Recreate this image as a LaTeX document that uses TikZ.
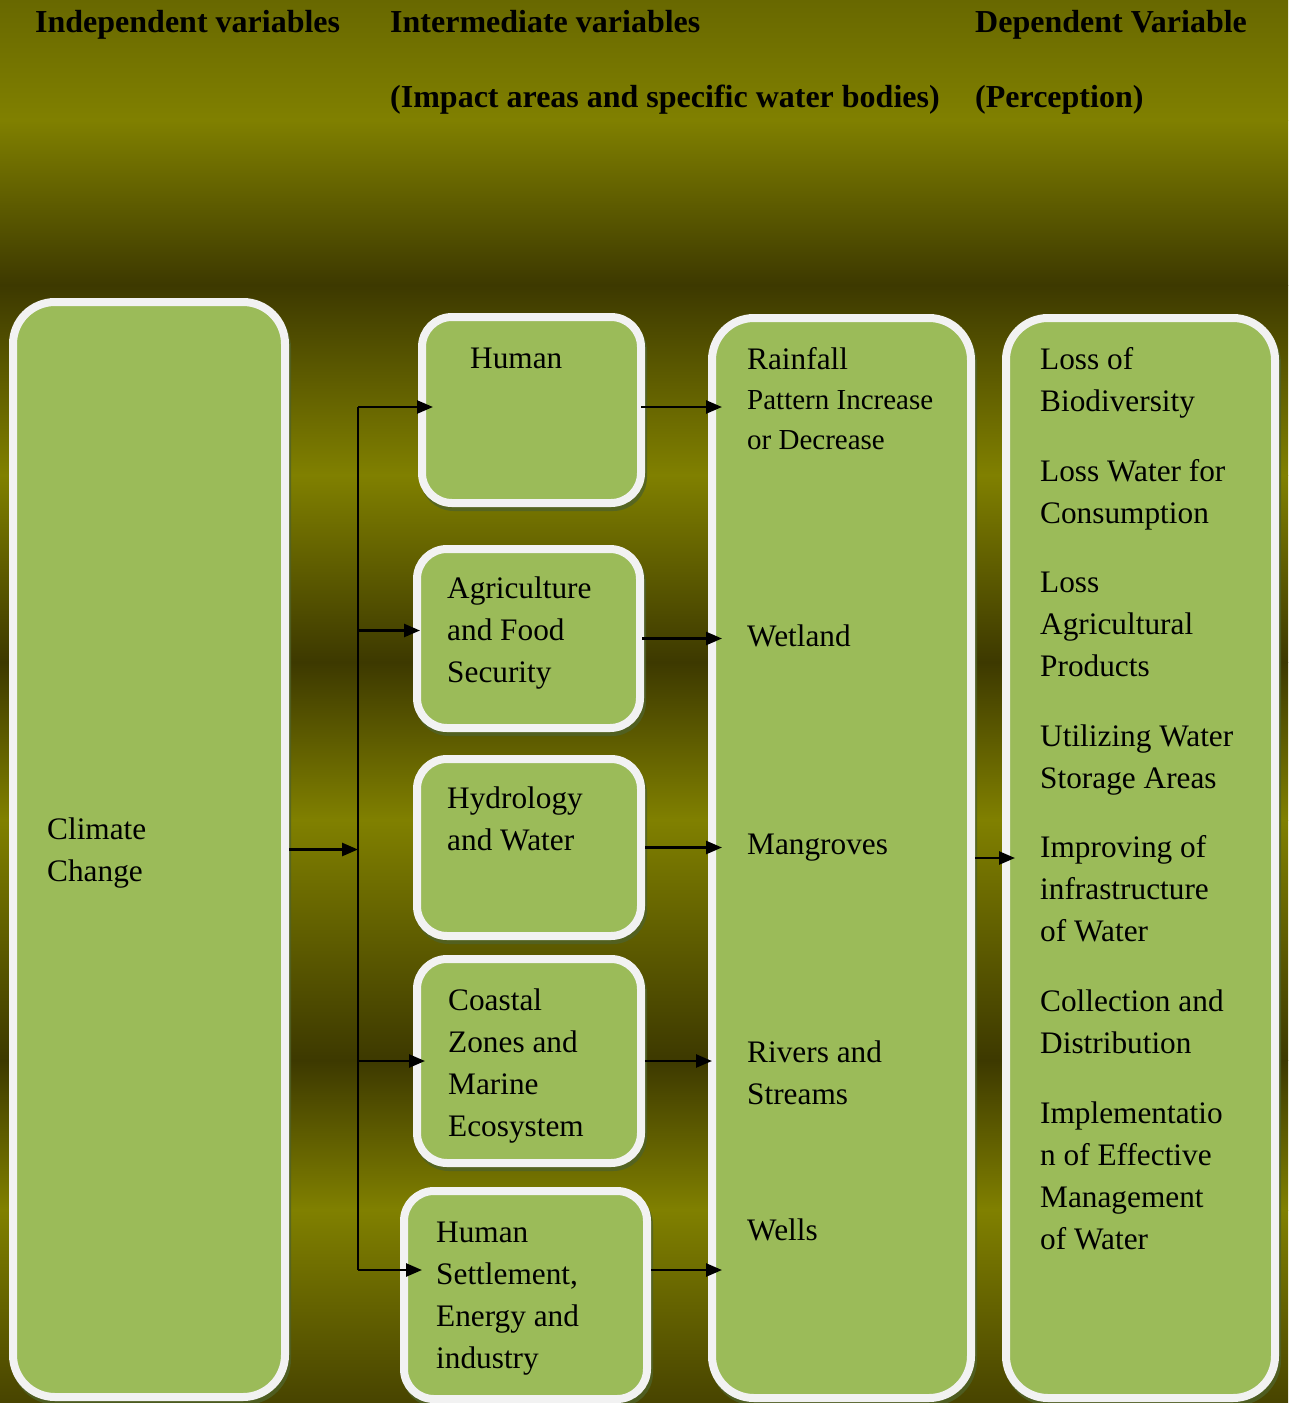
\documentclass[tikz,border=0pt]{standalone}
\usepackage{fontspec}
\setmainfont{Liberation Serif}
\usetikzlibrary{arrows.meta,shadows}

\definecolor{bgtop}{RGB}{104,104,0}
\definecolor{bgbright}{RGB}{128,128,0}
\definecolor{bgdark}{RGB}{61,57,0}
\definecolor{bgbottom}{RGB}{72,68,0}
\definecolor{boxfill}{HTML}{9BBB59}
\definecolor{boxline}{HTML}{F2F2F2}
\definecolor{boxshadow}{HTML}{4F6228}

\tikzset{
  box/.style={draw=boxline, line width=8pt, fill=boxfill, rounded corners=30pt, inner sep=0pt,
    drop shadow={shadow xshift=2pt, shadow yshift=-4pt, fill=boxshadow, draw=boxshadow, line width=8pt, opacity=0.8}},
  bigbox/.style={box, rounded corners=42pt},
  % base anchor of a multi-line text is the baseline of its last line
  txt/.style={font=\fontsize{31.3}{42}\selectfont, align=left, anchor=base west, inner sep=0pt},
  smalltxt/.style={txt, font=\fontsize{29}{40}\selectfont},
  head/.style={font=\bfseries\fontsize{32}{40}\selectfont, anchor=base west, inner sep=0pt},
  arr/.style={-{Triangle[length=16pt,width=13pt]}, line width=2.6pt}
}

\begin{document}
\begin{tikzpicture}[x=1pt,y=-1pt]
        \useasboundingbox (0,0) rectangle (1288,1403);

        % Background bands
        \foreach \ya/\yb/\ca/\cb in {0/120/bgtop/bgbright, 120/285/bgbright/bgdark, 285/475/bgdark/bgbright,
                                     475/662/bgbright/bgdark, 662/820/bgdark/bgbright, 820/1060/bgbright/bgdark,
                                     1060/1210/bgdark/bgbright, 1210/1403/bgbright/bgbottom}
          \shade[top color=\ca, bottom color=\cb] (0,\ya) rectangle (1288,\yb);

        % Headings
        \node[head] (hind) at (35,32) {Independent variables};
        \node[head] (hint) at (390,32) {Intermediate variables};
        \node[head] (hintsub) at (390,107) {(Impact areas and specific water bodies)};
        \node[head] (hdep) at (975,32) {Dependent Variable};
        \node[head] (hdepsub) at (975,107) {(Perception)};

        % Boxes
        \node[bigbox, minimum width=272pt, minimum height=1095pt] (climate) at (149,849.5) {};
        \node[box, minimum width=219pt, minimum height=186pt] (human) at (531.5,410) {};
        \node[box, minimum width=223pt, minimum height=179pt] (agri) at (528.5,638.5) {};
        \node[box, minimum width=224pt, minimum height=177pt] (hydro) at (529,847.5) {};
        \node[box, minimum width=224pt, minimum height=204pt] (coast) at (529,1061) {};
        \node[box, minimum width=243pt, minimum height=208pt] (settle) at (525.5,1295) {};
        \node[bigbox, minimum width=259pt, minimum height=1080pt] (water) at (841.5,858) {};
        \node[bigbox, minimum width=269pt, minimum height=1080pt] (percep) at (1140.5,858) {};

        % Box texts
        \node[txt] (climatetxt) at (47,881) {Climate\\Change};
        \node[txt] (humantxt) at (470,368) {Human};
        \node[txt] (agritxt) at (447,682) {Agriculture\\and Food\\Security};
        \node[txt] (hydrotxt) at (447,850) {Hydrology\\and Water};
        \node[txt] (coasttxt) at (448,1136) {Coastal\\Zones and\\Marine\\Ecosystem};
        \node[txt] (settletxt) at (436,1368) {Human\\Settlement,\\Energy and\\industry};

        \node[txt] (rain) at (747,369) {Rainfall};
        \node[smalltxt] (pattern) at (747,449) {Pattern Increase\\or Decrease};
        \node[txt] (wetland) at (747,646) {Wetland};
        \node[txt] (mangrove) at (747,854) {Mangroves};
        \node[txt] (rivers) at (747,1104) {Rivers and\\Streams};
        \node[txt] (wells) at (747,1240) {Wells};

        \node[txt] (pbio) at (1040,411) {Loss of\\Biodiversity};
        \node[txt] (pcons) at (1040,523) {Loss Water for\\Consumption};
        \node[txt] (pagri) at (1040,676) {Loss\\Agricultural\\Products};
        \node[txt] (pstore) at (1040,788) {Utilizing Water\\Storage Areas};
        \node[txt] (pinfra) at (1040,941) {Improving of\\infrastructure\\of Water};
        \node[txt] (pcoll) at (1040,1053) {Collection and\\Distribution};
        \node[txt] (pmanage) at (1040,1249) {Implementatio\\n of Effective\\Management\\of Water};

        % Trunk line
        \coordinate (trunktop) at (358,407);
        \coordinate (trunkbot) at (358,1270);
        \draw[line width=2.6pt] (trunktop) -- (trunkbot);
        \draw[arr] (climate.east) -- (climate.east -| trunktop);

        % Branches to impact areas
        \draw[arr] (trunktop) -- ([xshift=15pt]trunktop -| human.west);
        \draw[arr] ([yshift=8pt]agri.west -| trunktop) -- ([xshift=7pt,yshift=8pt]agri.west);
        \draw[arr] (coast.west -| trunktop) -- ([xshift=12pt]coast.west);
        \draw[arr] (trunkbot) -- ([xshift=22pt]trunkbot -| settle.west);

        % Impact areas to water bodies
        \draw[arr] ([xshift=-4pt,yshift=3pt]human.east) -- ([xshift=14pt,yshift=3pt]human.east -| water.west);
        \draw[arr] ([xshift=-2pt]agri.east) -- ([xshift=14pt]agri.east -| water.west);
        \draw[arr] (hydro.east) -- ([xshift=14pt]hydro.east -| water.west);
        \draw[arr] (coast.east) -- ([xshift=4pt]coast.east -| water.west);
        \draw[arr] ([yshift=25pt]settle.east) -- ([xshift=14pt,yshift=25pt]settle.east -| water.west);

        % Water bodies to perception
        \draw[arr] (water.east) -- ([xshift=13pt]percep.west);
    \end{tikzpicture}
\end{document}
